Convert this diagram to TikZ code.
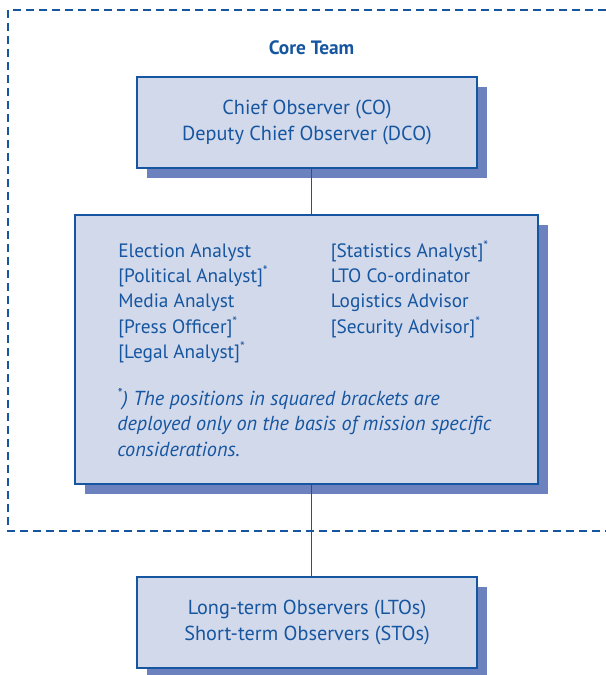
\documentclass[tikz,border=0pt]{standalone}
\usepackage{fontspec}
\setmainfont{PT Sans}
\usetikzlibrary{shadows}
\definecolor{obsblue}{RGB}{22,86,160}
\definecolor{obsfill}{RGB}{210,217,235}
\definecolor{obsshade}{RGB}{107,130,191}
\newcommand{\opt}{\textsuperscript{*}}

\begin{document}
\begin{tikzpicture}[x=0.75pt, y=-0.75pt,
  every node/.style={text=obsblue, font=\fontsize{14.5}{19.5}\selectfont},
  box/.style={draw=obsblue, fill=obsfill, line width=0.9pt, align=center, inner sep=0pt,
    font=\fontsize{15.2}{19.5}\selectfont,
    drop shadow={shadow xshift=7.5pt, shadow yshift=-7.5pt, fill=obsshade, opacity=1}},
  role/.style={anchor=base west, inner sep=0pt},
  link/.style={draw=obsblue, line width=0.8pt},
  frame/.style={draw=obsblue, line width=1.7pt, dash pattern=on 6pt off 3.75pt}]
			%%%%% START %%%%%
			\useasboundingbox (0, 0) rectangle (606, 675);
			
			% core team frame, open to the right
			\draw[frame] (606, 10) -| (8, 531) -- (606, 531);
			\node[anchor=base, font=\fontsize{14.5}{19.5}\selectfont\bfseries] (core) at (311.5, 54) {Core Team};
			
			\node[box, minimum width=255pt, minimum height=68.25pt] (chief) at (307, 122.5)
				{Chief Observer (CO)\\Deputy Chief Observer (DCO)};
			
			\node[box, minimum width=347.25pt, minimum height=201.75pt] (staff) at (306.5, 349.5) {};
			
			\foreach \txt [count=\i] in {Election Analyst, {[Political Analyst]\opt}, Media Analyst,
				{[Press Officer]\opt}, {[Legal Analyst]\opt}}
				\node[role] (left\i) at (118, 257.3 + 25.3*\i - 25.3) {\txt};
			\foreach \txt [count=\i] in {{[Statistics Analyst]\opt}, LTO Co-ordinator, Logistics Advisor,
				{[Security Advisor]\opt}}
				\node[role] (right\i) at (330.5, 257.3 + 25.3*\i - 25.3) {\txt};
			
			% base of the note is its last line
			\node[role, align=left, font=\fontsize{15.2}{19}\selectfont\itshape] (note) at (117, 456)
				{\opt) The positions in squared brackets are\\deployed only on the basis of mission specific\\considerations.};
			
			\node[box, minimum width=255pt, minimum height=68.25pt] (observers) at (307, 622.5)
				{Long-term Observers (LTOs)\\Short-term Observers (STOs)};
			
			\coordinate (spine) at (311.5, 0);
			\draw[link] (chief.south -| spine) -- (staff.north -| spine);
			\draw[link] (staff.south -| spine) -- (observers.north -| spine);
			%%%%% END %%%%%
\end{tikzpicture}
\end{document}
